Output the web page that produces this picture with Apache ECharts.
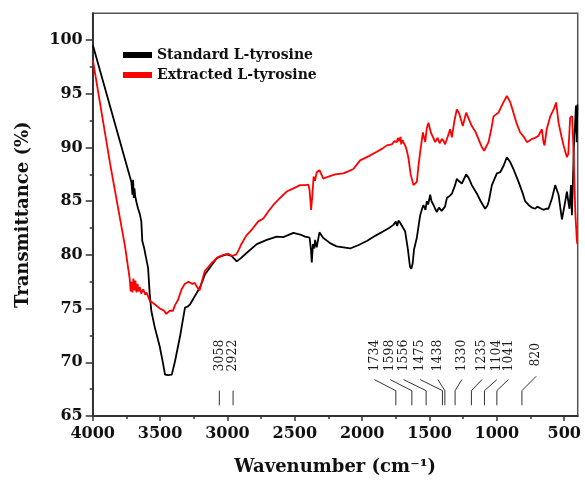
<!DOCTYPE html>
<html>
<head>
<meta charset="utf-8">
<script src="https://cdn.jsdelivr.net/npm/echarts@6/dist/echarts.min.js"></script>
<style>html,body{margin:0;padding:0;background:#fff}#c{width:585px;height:481px}</style>
</head>
<body>
<div id="c"></div>
<script>
// ---- data ----
const seriesNames = ['Standard L-tyrosine', 'Extracted L-tyrosine'];
const xMajorTicks = [500, 1000, 1500, 2000, 2500, 3000, 3500, 4000];
const xMinorTicks = [750, 1250, 1750, 2250, 2750, 3250, 3750];
const yMajorTicks = [65, 70, 75, 80, 85, 90, 95, 100];
const yMinorTicks = [67.5, 72.5, 77.5, 82.5, 87.5, 92.5, 97.5];

const stdWave = [3998,3713,3705,3700,3695,3690,3685,3675,3664,3650,3639,3632,3619,3609,3589,3577,3565,3540,3502,3478,3463,3450,3440,3430,3413,3389,3352,3315,3295,3277,3240,3203,3166,3120,3079,3040,3005,2970,2931,2900,2856,2782,2708,2634,2585,2510,2460,2423,2390,2380,2374,2365,2355,2349,2337,2317,2290,2238,2190,2139,2089,2030,1965,1900,1842,1800,1768,1750,1740,1730,1718,1700,1681,1660,1645,1635,1625,1615,1594,1580,1569,1555,1545,1530,1520,1510,1495,1485,1470,1458,1445,1430,1420,1410,1396,1385,1371,1350,1334,1310,1297,1285,1260,1228,1210,1186,1148,1120,1087,1070,1060,1037,1000,975,950,926,901,877,839,810,790,760,740,715,700,690,670,654,635,617,590,567,542,517,495,480,470,461,450,443,435,426,420,413,408,402];
const stdT = [99.5,86.8,85.6,87.0,85.3,86.2,85.5,84.9,84.35,83.8,83.1,81.3,80.7,80.05,78.8,76.4,74.8,73.3,71.45,69.9,68.85,68.7,68.8,68.7,68.85,70.1,72.4,75.1,75.2,75.4,76.2,77.0,78.2,79.0,79.7,79.9,80.05,79.9,79.4,79.7,80.2,81.0,81.4,81.7,81.65,82.05,81.9,81.7,81.6,80.5,79.3,81.0,80.6,81.4,80.7,82.1,81.6,81.1,80.8,80.7,80.6,80.9,81.3,81.8,82.2,82.5,82.8,83.1,82.7,83.2,83.0,82.6,82.2,80.5,78.9,78.7,79.2,80.5,81.6,82.8,83.7,84.3,84.65,84.2,85.0,84.7,85.6,85.0,84.65,84.3,84.0,84.4,84.4,84.1,84.2,84.5,85.3,85.5,85.7,86.5,87.1,86.9,86.65,87.5,87.2,86.5,85.7,85.0,84.3,84.6,85.0,86.5,87.6,87.7,88.3,89.1,88.65,88.0,86.8,85.8,85.0,84.6,84.4,84.3,84.5,84.6,84.3,84.2,84.3,84.3,85.3,86.5,85.6,83.3,84.8,85.9,85.0,84.3,86.5,83.7,87.0,91.1,92.0,93.9,90.5,94.0];

const extWave = [3998,3871,3760,3725,3718,3712,3705,3698,3690,3683,3675,3667,3660,3650,3640,3625,3610,3600,3589,3575,3560,3540,3500,3470,3453,3430,3404,3390,3367,3340,3317,3290,3260,3243,3225,3206,3190,3168,3120,3070,3030,2995,2965,2934,2915,2897,2860,2822,2773,2733,2700,2659,2610,2560,2510,2461,2420,2399,2390,2379,2370,2360,2350,2337,2317,2288,2250,2200,2139,2100,2065,2015,1950,1891,1850,1817,1780,1760,1743,1735,1725,1715,1710,1700,1690,1681,1670,1656,1640,1619,1605,1594,1582,1565,1549,1532,1520,1508,1490,1475,1458,1440,1425,1408,1395,1384,1365,1347,1334,1315,1297,1280,1253,1228,1186,1160,1137,1110,1094,1062,1040,1025,988,960,926,900,877,855,827,800,777,740,715,691,678,666,654,646,630,604,580,560,542,520,505,480,470,456,441,431,418,406,402];
const extT = [98.1,88.5,80.8,77.75,76.6,77.5,76.5,77.8,76.7,77.6,76.5,77.3,76.6,77.0,76.4,76.8,76.3,76.5,76.4,75.7,75.6,75.4,75.0,74.8,74.5,74.8,74.8,75.3,75.8,76.8,77.3,77.5,77.3,77.4,77.0,76.7,77.5,78.5,79.2,79.8,80.0,80.1,79.9,80.05,80.5,81.0,81.8,82.3,83.1,83.4,84.0,84.65,85.3,85.9,86.2,86.5,86.5,86.55,86.0,84.2,85.5,87.3,86.9,87.7,87.9,87.1,87.3,87.5,87.6,87.8,88.0,88.8,89.2,89.6,89.9,90.2,90.3,90.6,90.5,90.9,90.6,91.0,90.3,90.7,90.4,90.2,89.8,89.0,87.5,86.5,86.6,86.8,88.3,90.0,91.4,90.5,91.8,92.3,91.4,91.0,90.5,90.9,90.4,90.8,90.6,90.3,91.0,91.7,90.95,92.5,93.55,93.2,92.0,93.25,92.0,91.5,90.8,90.0,89.7,90.5,91.8,92.9,93.25,94.0,94.8,94.2,93.25,92.3,91.4,91.0,90.5,90.8,90.9,91.1,91.1,91.7,90.5,90.2,91.7,92.9,93.5,94.2,92.3,91.0,90.2,89.1,89.4,92.8,92.9,89.6,84.0,81.3,81.0];

// peak annotations
const peakLabels = ['3058','2922','1734','1598','1556','1475','1438','1330','1235','1104','1041','820'];
const peakLineAt = [3060, 2958, 1750, 1631, 1525, 1404, 1386, 1310, 1189, 1092, 1000, 814];
const peakTextAt = [3060, 2958, 1909, 1792, 1693, 1569, 1438, 1260, 1111, 1000, 914, 708];

// ---- chart ----
const FONT = 'DejaVu Serif';
const zip = (a, b) => a.map((v, i) => [v, b[i]]);
const chart = echarts.init(document.getElementById('c'), null, {renderer: 'canvas'});

function renderPeak(params, api) {
  const i = params.dataIndex;
  const lw = peakLineAt[i], tw = peakTextAt[i];
  const isLast = i === peakLabels.length - 1;
  const p0 = api.coord([lw, 66.0]);
  const p1 = api.coord([lw, 67.36]);
  const p2 = api.coord([tw, isLast ? 68.7 : 68.39]);
  const pt = api.coord([tw, isLast ? 69.6 : 69.15]);
  const style = {stroke: '#333', lineWidth: 1};
  const children = [
    {type: 'line', shape: {x1: p0[0], y1: p0[1], x2: p1[0], y2: p1[1]}, style: style}
  ];
  if (tw !== lw) {
    children.push({type: 'line', shape: {x1: p1[0], y1: p1[1], x2: p2[0], y2: p2[1]}, style: style});
  }
  children.push({
    type: 'text', x: pt[0], y: pt[1], rotation: Math.PI / 2,
    style: {text: peakLabels[i], x: 0, y: 0, align: 'left', verticalAlign: 'middle',
            fontFamily: FONT, fontSize: 12.5, fill: '#1a1a1a'}
  });
  return {type: 'group', children: children};
}

const tickLabelStyle = {fontFamily: FONT, fontWeight: 'bold', fontSize: 16, color: '#111'};

chart.setOption({
  animation: false,
  backgroundColor: '#fff',
  grid: {left: 92.7, right: 7.3, top: 13.3, bottom: 62.7, show: true, borderColor: '#555', borderWidth: 1.5},
  legend: {
    data: seriesNames, orient: 'vertical', left: 123, top: 48, padding: 0,
    itemWidth: 29, itemHeight: 6, itemGap: 6, icon: 'rect',
    textStyle: {fontFamily: FONT, fontWeight: 'bold', fontSize: 14, color: '#111'}
  },
  xAxis: [
    {
      type: 'value', inverse: true, min: 400, max: 4000, position: 'bottom',
      name: 'Wavenumber (cm\u207B\u00B9)', nameLocation: 'middle', nameGap: 42,
      nameTextStyle: {fontFamily: FONT, fontWeight: 'bold', fontSize: 18, color: '#111'},
      axisLine: {show: true, lineStyle: {color: '#333', width: 2}},
      axisTick: {show: true, inside: false, length: 5, customValues: xMajorTicks, lineStyle: {color: '#333', width: 1.5}},
      axisLabel: {customValues: xMajorTicks, margin: 10, formatter: v => String(v), ...tickLabelStyle},
      splitLine: {show: false}
    },
    {
      type: 'value', inverse: true, min: 400, max: 4000, position: 'bottom',
      axisLine: {show: false},
      axisTick: {show: true, inside: false, length: 3, customValues: xMinorTicks, lineStyle: {color: '#333', width: 1.5}},
      axisLabel: {show: false}, splitLine: {show: false}
    }
  ],
  yAxis: [
    {
      type: 'value', min: 65, max: 102.5, interval: 5, position: 'left',
      name: 'Transmittance (%)', nameLocation: 'middle', nameGap: 60, nameRotate: 90,
      nameTextStyle: {fontFamily: FONT, fontWeight: 'bold', fontSize: 18, color: '#111'},
      axisLine: {show: true, lineStyle: {color: '#333', width: 2}},
      axisTick: {show: true, inside: false, length: 7, customValues: yMajorTicks, lineStyle: {color: '#333', width: 1.5}},
      axisLabel: {customValues: yMajorTicks, margin: 10, formatter: v => String(v), ...tickLabelStyle},
      splitLine: {show: false}
    },
    {
      type: 'value', min: 65, max: 102.5, interval: 5, position: 'left',
      axisLine: {show: false},
      axisTick: {show: true, inside: false, length: 3, customValues: yMinorTicks, lineStyle: {color: '#333', width: 1.5}},
      axisLabel: {show: false}, splitLine: {show: false}
    }
  ],
  series: [
    {
      name: seriesNames[0], type: 'line', data: zip(stdWave, stdT),
      showSymbol: false, symbol: 'none', lineStyle: {color: '#000', width: 1.8}, itemStyle: {color: '#000'}
    },
    {
      name: seriesNames[1], type: 'line', data: zip(extWave, extT),
      showSymbol: false, symbol: 'none', lineStyle: {color: '#ff0000', width: 1.8}, itemStyle: {color: '#ff0000'}
    },
    {
      name: 'peaks', type: 'custom', silent: true, clip: false,
      data: peakLineAt.map(v => [v, 66]),
      renderItem: renderPeak
    }
  ]
});
</script>
</body>
</html>
